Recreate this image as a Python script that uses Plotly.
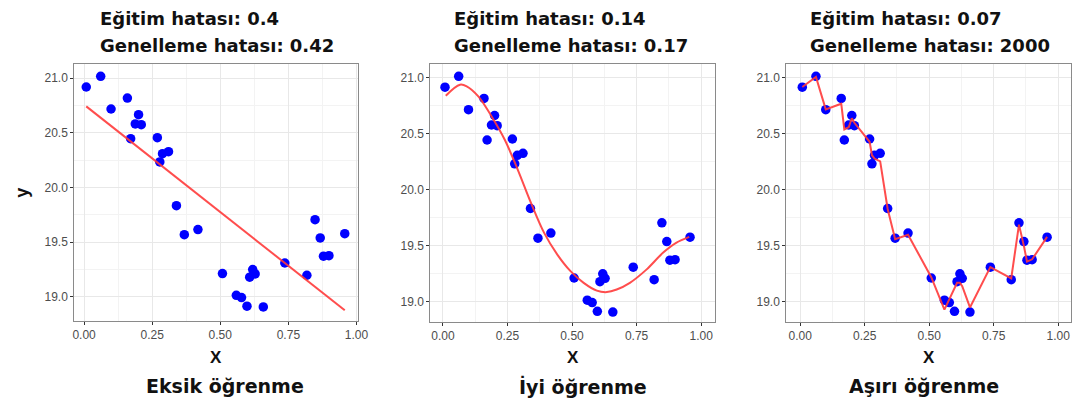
import plotly.graph_objects as go

W, H = 1081, 398

# ---- data ----
x_vals = [0.008, 0.061, 0.099, 0.159, 0.171, 0.188, 0.200, 0.210, 0.269, 0.278,
          0.288, 0.310, 0.339, 0.368, 0.418, 0.508, 0.559, 0.578, 0.598, 0.608,
          0.619, 0.628, 0.658, 0.737, 0.818, 0.848, 0.867, 0.879, 0.899, 0.957]
y_vals = [20.918, 21.015, 20.717, 20.817, 20.446, 20.580, 20.665, 20.574, 20.455, 20.233,
          20.309, 20.327, 19.834, 19.569, 19.615, 19.213, 19.015, 18.994, 18.915, 19.180,
          19.250, 19.210, 18.909, 19.310, 19.198, 19.706, 19.539, 19.372, 19.377, 19.578]

under_x = [0.008, 0.957]
under_y = [20.741, 18.878]

good_x = [0.011, 0.066, 0.092, 0.137, 0.188, 0.239, 0.290, 0.341, 0.392, 0.443,
          0.494, 0.545, 0.596, 0.635, 0.673, 0.724, 0.788, 0.852, 0.903, 0.954]
good_y = [20.842, 20.940, 20.926, 20.836, 20.658, 20.450, 20.180, 19.884, 19.616, 19.422,
          19.274, 19.170, 19.100, 19.087, 19.110, 19.170, 19.288, 19.438, 19.527, 19.580]

over_y = [20.920, 21.010, 20.720, 20.770, 20.540, 20.560, 20.640, 20.600, 20.430, 20.310,
          20.280, 20.255, 19.830, 19.560, 19.600, 19.220, 18.930, 19.020, 19.120, 19.170,
          19.170, 19.140, 18.950, 19.310, 19.210, 19.690, 19.500, 19.360, 19.380, 19.580]

train_err = ["0.4", "0.14", "0.07"]
gen_err = ["0.42", "0.17", "2000"]
panel_names = ["Eksik öğrenme", "İyi öğrenme", "Aşırı öğrenme"]

x_ticks = [0, 0.25, 0.5, 0.75, 1.0]
y_ticks = [19.0, 19.5, 20.0, 20.5, 21.0]

# ---- layout geometry (pixels) ----
panels = [
    dict(l=65, r=352, t=56, b=313, xr=[-0.036, 1.006], yr=[18.78, 21.128], title_x=89, name_cx=217),
    dict(l=425, r=713, t=56, b=314, xr=[-0.049, 1.054], yr=[18.82, 21.125], title_x=447, name_cx=579),
    dict(l=785, r=1073, t=56, b=314, xr=[-0.054, 1.050], yr=[18.82, 21.125], title_x=807, name_cx=924),
]

FONT = "Liberation Sans, Arial, sans-serif"
TFONT = "DejaVu Sans, sans-serif"
LINE_COLOR = "#ff3a3a"
PT_COLOR = "#0000ff"

fig = go.Figure()
lines = [(under_x, under_y, "linear"), (good_x, good_y, "spline"), (x_vals, over_y, "linear")]

for i, p in enumerate(panels):
    xa = "x" if i == 0 else f"x{i+1}"
    ya = "y" if i == 0 else f"y{i+1}"
    fig.add_trace(go.Scatter(x=x_vals, y=y_vals, mode="markers", xaxis=xa, yaxis=ya,
                             marker=dict(color=PT_COLOR, size=9.5, line=dict(width=0)),
                             showlegend=False, hoverinfo="skip"))
    lx, ly, shape = lines[i]
    fig.add_trace(go.Scatter(x=lx, y=ly, mode="lines", xaxis=xa, yaxis=ya,
                             line=dict(color=LINE_COLOR, width=2, shape=shape),
                             opacity=0.9, showlegend=False, hoverinfo="skip"))

    axcommon = dict(showline=True, mirror=True, linecolor="#8a8a8a", linewidth=1,
                    ticks="outside", ticklen=3, tickwidth=1, tickcolor="#333333",
                    gridcolor="#e8e8e8", gridwidth=1.2, zeroline=False,
                    tickfont=dict(family=FONT, size=12, color="#4d4d4d"))
    xkey = "xaxis" if i == 0 else f"xaxis{i+1}"
    ykey = "yaxis" if i == 0 else f"yaxis{i+1}"
    fig.update_layout(**{
        xkey: dict(domain=[p["l"] / W, p["r"] / W], range=p["xr"], anchor=ya,
                   tickvals=x_ticks, ticktext=[f"{v:.2f}" for v in x_ticks],
                   minor=dict(tickvals=[0.125, 0.375, 0.625, 0.875], showgrid=True,
                              gridcolor="#f3f3f3", gridwidth=0.7, ticks=""),
                   **axcommon),
        ykey: dict(domain=[(H - p["b"]) / H, (H - p["t"]) / H], range=p["yr"], anchor=xa,
                   tickvals=y_ticks, ticktext=[f"{v:.1f}" for v in y_ticks],
                   minor=dict(tickvals=[19.25, 19.75, 20.25, 20.75], showgrid=True,
                              gridcolor="#f3f3f3", gridwidth=0.7, ticks=""),
                   **axcommon),
    })

    cx = (p["l"] + p["r"]) / 2 / W
    fig.add_annotation(x=p["title_x"] / W, y=(H - 11) / H, xref="paper", yref="paper",
                       xanchor="left", yanchor="middle", showarrow=False,
                       text=f"<b>Eğitim hatası: {train_err[i]}</b>",
                       font=dict(family=TFONT, size=18, color="#111111"))
    fig.add_annotation(x=p["title_x"] / W, y=(H - 37) / H, xref="paper", yref="paper",
                       xanchor="left", yanchor="middle", showarrow=False,
                       text=f"<b>Genelleme hatası: {gen_err[i]}</b>",
                       font=dict(family=TFONT, size=18, color="#111111"))
    fig.add_annotation(x=cx, y=(H - 349) / H, xref="paper", yref="paper",
                       xanchor="center", yanchor="middle", showarrow=False,
                       text="<b>X</b>", font=dict(family=FONT, size=17, color="#111111"))
    fig.add_annotation(x=p["name_cx"] / W, y=(H - 378) / H, xref="paper", yref="paper",
                       xanchor="center", yanchor="middle", showarrow=False,
                       text=f"<b>{panel_names[i]}</b>",
                       font=dict(family=TFONT, size=19, color="#111111"))

fig.add_annotation(x=12 / W, y=(H - 185) / H, xref="paper", yref="paper",
                   xanchor="center", yanchor="middle", showarrow=False, textangle=-90,
                   text="<b>y</b>", font=dict(family=FONT, size=18, color="#111111"))

fig.update_layout(width=W, height=H, margin=dict(l=0, r=0, t=0, b=0),
                  paper_bgcolor="white", plot_bgcolor="white")

fig.write_html("out.html")
